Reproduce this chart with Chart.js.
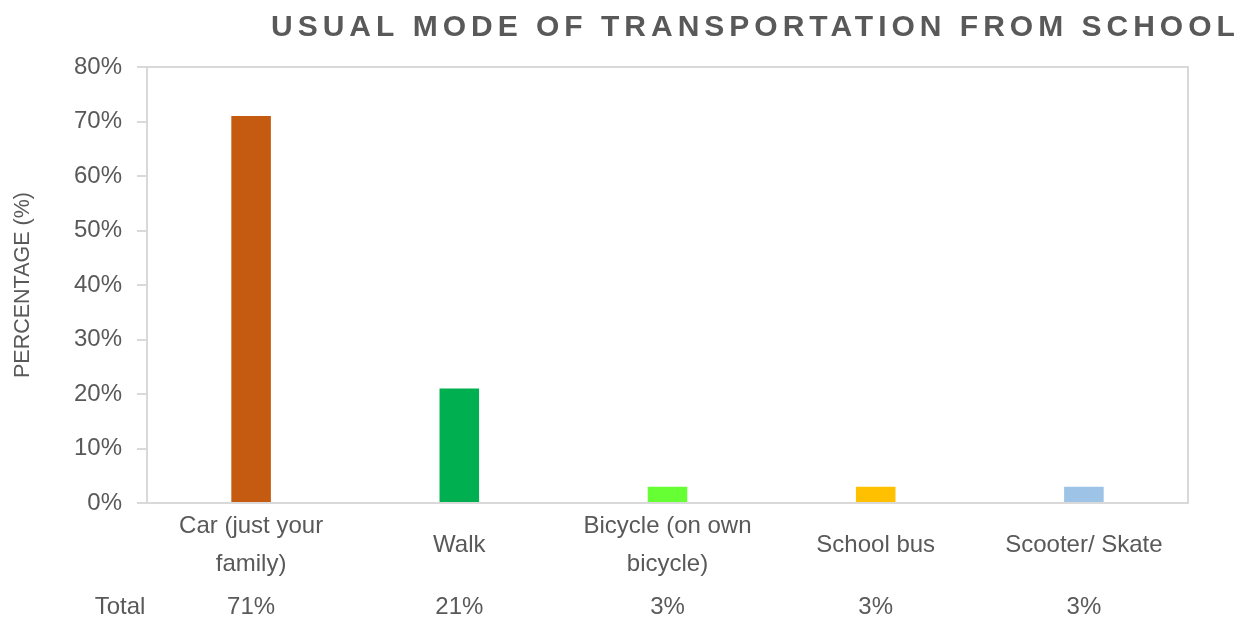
<!DOCTYPE html>
<html>
<head>
<meta charset="utf-8">
<script src="https://cdn.jsdelivr.net/npm/chart.js@4/dist/chart.umd.min.js"></script>
<style>
  html, body { margin: 0; padding: 0; background: #ffffff; }
  #wrap { width: 1259px; height: 619px; position: relative; }
</style>
</head>
<body>
<div id="wrap"><canvas id="c" width="1259" height="619"></canvas></div>
<script>
const chartTitle = 'USUAL MODE OF TRANSPORTATION FROM SCHOOL';
const yAxisTitle = 'PERCENTAGE (%)';
const categories = [
  ['Car (just your', 'family)'],
  'Walk',
  ['Bicycle (on own', 'bicycle)'],
  'School bus',
  'Scooter/ Skate'
];
const values = [71, 21, 3, 3, 3];
const barColors = ['#C55A11', '#00B050', '#66FF33', '#FFC000', '#9DC3E6'];
const tableRowLabel = 'Total';
const yTicks = [0, 10, 20, 30, 40, 50, 60, 70, 80];

const textColor = '#595959';
const fontFamily = '"Liberation Sans", Arial, Helvetica, sans-serif';

const decorPlugin = {
  id: 'decor',
  afterDatasetsDraw(chart) {
    const ctx = chart.ctx;
    const a = chart.chartArea;
    ctx.save();
    ctx.strokeStyle = '#d9d9d9';
    ctx.lineWidth = 2;
    ctx.strokeRect(a.left, a.top, a.right - a.left, a.bottom - a.top);
    ctx.restore();
  },
  afterDraw(chart) {
    const ctx = chart.ctx;
    const x = chart.scales.x;
    ctx.save();
    ctx.fillStyle = textColor;
    ctx.font = 'bold 30px ' + fontFamily;
    ctx.textBaseline = 'middle';
    ctx.textAlign = 'left';
    ctx.letterSpacing = '5px';
    ctx.fillText(chartTitle, 271, 28);
    ctx.letterSpacing = '0px';
    ctx.font = '24px ' + fontFamily;
    ctx.textAlign = 'center';
    ctx.fillText(tableRowLabel, 120, 607);
    values.forEach((v, i) => {
      ctx.fillText(v + '%', x.getPixelForValue(i), 607);
    });
    ctx.restore();
  }
};

new Chart(document.getElementById('c'), {
  type: 'bar',
  data: {
    labels: categories,
    datasets: [{
      data: values,
      backgroundColor: barColors,
      borderWidth: 0,
      categoryPercentage: 1,
      barPercentage: 0.19
    }]
  },
  options: {
    responsive: false,
    animation: false,
    devicePixelRatio: 1,
    layout: { padding: { top: 67, right: 71, bottom: 0, left: 0 } },
    plugins: {
      legend: { display: false },
      tooltip: { enabled: false },
      title: { display: false }
    },
    scales: {
      x: {
        grid: { display: false },
        border: { display: false },
        ticks: {
          color: textColor,
          font: { family: fontFamily, size: 24, lineHeight: 1.6 },
          maxRotation: 0,
          autoSkip: false,
          crossAlign: 'center',
          padding: 15
        },
        afterFit(s) { s.height = 116; }
      },
      y: {
        min: 0,
        max: 80,
        afterBuildTicks(s) { s.ticks = yTicks.map(v => ({ value: v })); },
        grid: {
          drawOnChartArea: false,
          drawTicks: true,
          tickLength: 10,
          color: '#d9d9d9',
          lineWidth: 2
        },
        border: { display: false },
        ticks: {
          color: textColor,
          font: { family: fontFamily, size: 24 },
          padding: 15,
          callback: v => v + '%'
        },
        title: {
          display: true,
          text: yAxisTitle,
          color: textColor,
          font: { family: fontFamily, size: 21.5 },
          padding: { top: 10, bottom: 0 }
        },
        afterFit(s) { s.width = 147; }
      }
    }
  },
  plugins: [decorPlugin]
});
</script>
</body>
</html>
